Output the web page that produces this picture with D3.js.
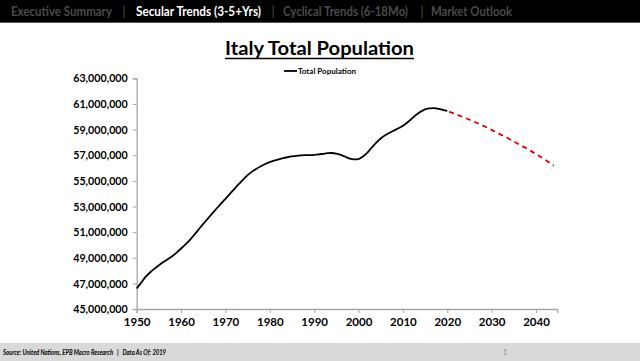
<!DOCTYPE html>
<html><head><meta charset="utf-8">
<script src="https://cdn.jsdelivr.net/npm/d3@7"></script>
<style>html,body{margin:0;padding:0;background:#fff;overflow:hidden}svg{display:block}</style>
</head><body>
<svg id="c" width="640" height="361"></svg>
<script>
const histYears = d3.range(1950, 2021);
const histValues = [46.60,47.05,47.50,47.85,48.15,48.42,48.66,48.88,49.12,49.40,
  49.72,50.05,50.40,50.80,51.22,51.64,52.04,52.44,52.84,53.22,
  53.60,53.98,54.36,54.74,55.10,55.44,55.72,55.95,56.14,56.31,
  56.46,56.58,56.68,56.77,56.84,56.90,56.95,56.98,57.00,57.01,
  57.03,57.06,57.11,57.16,57.17,57.12,57.02,56.88,56.74,56.68,
  56.70,56.90,57.20,57.60,57.98,58.30,58.55,58.75,58.93,59.10,
  59.30,59.55,59.85,60.15,60.40,60.58,60.66,60.67,60.62,60.54,60.45];
const projYears = d3.range(2020, 2045);
const projValues = [60.45,60.32,60.19,60.05,59.91,59.77,59.62,59.47,59.31,59.15,
  58.98,58.80,58.62,58.44,58.26,58.07,57.88,57.69,57.50,57.30,
  57.09,56.88,56.66,56.43,56.18];
const yTicks = [45,47,49,51,53,55,57,59,61,63];
const xTicks = [1950,1960,1970,1980,1990,2000,2010,2020,2030,2040];
const navItems = ["Executive Summary","|","Secular Trends (3-5+Yrs)","|","Cyclical Trends (6-18Mo)","|","Market Outlook"];
const titleText = "Italy Total Population";
const legendLabel = "Total Population";
const sourceText = "Source: United Nations, EPB Macro Research   |   Data As Of: 2019";

const svg = d3.select("#c");
const F = "Lato, 'Open Sans', sans-serif";

// top nav bar
svg.append("rect").attr("x",0).attr("y",0).attr("width",640).attr("height",23).attr("fill","#000");
svg.append("line").attr("x1",0).attr("x2",640).attr("y1",22.5).attr("y2",22.5).attr("stroke","#555").attr("stroke-width",1);
const navPos = [[11,101],[122.5,0],[136,125],[271.5,0],[283,125],[420.5,0],[431,81]];
navItems.forEach((t,i)=>{
  const el = svg.append("text").attr("x",navPos[i][0]).attr("y",16)
    .attr("font-family",F).attr("font-weight","bold").attr("font-size",12.5)
    .attr("fill", i===2 ? "#fff" : "#4a4a4a").text(t);
  if (t !== "|") el.attr("textLength",navPos[i][1]).attr("lengthAdjust","spacingAndGlyphs");
  else el.attr("font-size",13).attr("font-weight","normal");
});

// title
svg.append("text").attr("x",225).attr("y",55).attr("font-family",F).attr("font-weight","bold")
  .attr("font-size",19).attr("fill","#000").attr("textLength",189).attr("lengthAdjust","spacingAndGlyphs").text(titleText);
svg.append("line").attr("x1",225).attr("x2",414).attr("y1",58.5).attr("y2",58.5).attr("stroke","#000").attr("stroke-width",1.5);

// legend
svg.append("line").attr("x1",284).attr("x2",297).attr("y1",71).attr("y2",71).attr("stroke","#000").attr("stroke-width",1.8);
svg.append("text").attr("x",298).attr("y",73.8).attr("font-family",F).attr("font-weight","bold")
  .attr("font-size",8).attr("fill","#000").attr("textLength",58).attr("lengthAdjust","spacingAndGlyphs").text(legendLabel);

// scales
const x = d3.scaleLinear().domain([1950, 2044.8]).range([136.7, 557.3]);
const y = d3.scaleLinear().domain([45, 63]).range([309, 78.3]);

// y axis
const yAxis = svg.append("g").attr("transform","translate(136.7,0)")
  .call(d3.axisLeft(y).tickValues(yTicks).tickSize(4).tickPadding(5)
    .tickFormat(d => d3.format(",")(d*1e6)));
yAxis.select(".domain").attr("stroke","#a6a6a6").attr("stroke-width",1.3);
yAxis.selectAll(".tick line").attr("stroke","#a6a6a6");
yAxis.selectAll(".tick text").attr("font-family",F).attr("font-weight","bold").attr("font-size",11.5)
  .attr("fill","#000").attr("textLength",54.5).attr("lengthAdjust","spacingAndGlyphs");

// x axis
const xAxis = svg.append("g").attr("transform","translate(0,309)")
  .call(d3.axisBottom(x).tickValues(xTicks).tickSize(4).tickPadding(5).tickFormat(d3.format("d")));
xAxis.select(".domain").attr("stroke","#a6a6a6").attr("stroke-width",1.3);
xAxis.selectAll(".tick line").attr("stroke","#a6a6a6");
xAxis.selectAll(".tick text").attr("font-family",F).attr("font-weight","bold").attr("font-size",11.5).attr("fill","#000");

// lines
const line = d3.line().x(d=>x(d[0])).y(d=>y(d[1])).curve(d3.curveMonotoneX);
svg.append("path").datum(histYears.map((yr,i)=>[yr,histValues[i]]))
  .attr("d",line).attr("fill","none").attr("stroke","#000").attr("stroke-width",1.8);
svg.append("path").datum(projYears.map((yr,i)=>[yr,projValues[i]]))
  .attr("d",line).attr("fill","none").attr("stroke","#e00000").attr("stroke-width",1.8)
  .attr("stroke-dasharray","5,4").attr("stroke-dashoffset",-2);

// footer
svg.append("rect").attr("x",0).attr("y",343).attr("width",640).attr("height",18).attr("fill","#d9d9d9");
svg.append("text").attr("x",3).attr("y",354.5).attr("font-family",F).attr("font-weight","bold").attr("font-style","italic")
  .attr("font-size",7).attr("fill","#000").attr("xml:space","preserve").style("white-space","pre")
  .attr("textLength",163).attr("lengthAdjust","spacingAndGlyphs").text(sourceText);
svg.append("text").attr("x",503).attr("y",354.5).attr("font-family",F).attr("font-size",7).attr("fill","#8a8a8a").text("1");
</script>
</body></html>
